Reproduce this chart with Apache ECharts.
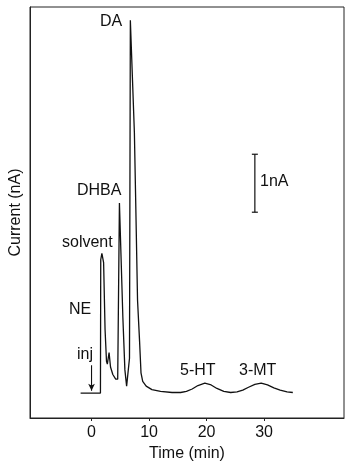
<!DOCTYPE html>
<html>
<head>
<meta charset="utf-8">
<script src="https://cdn.jsdelivr.net/npm/echarts@6/dist/echarts.min.js"></script>
<style>
  html, body { margin: 0; padding: 0; background: #fff; }
  #chart { width: 347px; height: 470px; }
</style>
</head>
<body>
<div id="chart"></div>
<script>
 // chromatogram trace: time (min), current (nA)
 var times = [-1.9, 1.55, 1.6, 1.8, 2.1, 2.35, 2.6, 2.75, 3.05, 3.3, 3.7, 4.2, 4.55,
              4.85, 5.45, 5.8, 6.1, 6.3, 6.6, 6.75, 7.45, 7.7, 8.0, 8.35, 8.6, 8.9,
              9.5, 10.5, 12, 14, 15.5, 16.5, 17.5, 18.5, 19.7, 20.8, 21.8, 23, 24.2,
              25.3, 26.3, 27.3, 28.4, 29.5, 30.6, 31.7, 32.8, 34, 35];
 var current = [0, 0, 2.3, 2.41, 2.25, 1.1, 0.55, 0.5, 0.7, 0.45, 0.32, 0.24, 0.24,
                3.28, 1.3, 0.4, 0.12, 0.09, 0.6, 6.43, 4.5, 3.2, 1.6, 0.9, 0.35, 0.2,
                0.12, 0.06, 0.03, 0.01, 0.01, 0.03, 0.07, 0.13, 0.17, 0.14, 0.08, 0.03, 0.01,
                0.02, 0.05, 0.1, 0.15, 0.17, 0.14, 0.09, 0.05, 0.02, 0.01];
 var tickValues = [0, 10, 20, 30];
 // scale bar (1 nA) and injection arrow
 var scaleBarX = [28.4, 28.4];
 var scaleBarY = [3.12, 4.12];
 var injX = [0, 0];
 var injY = [0.48, 0.04];

 var ink = '#111';
 var font = 'Liberation Sans';

 function makeOption() {
   var trace = [];
   for (var i = 0; i < times.length; i++) trace.push([times[i], current[i]]);
   var bar = [[scaleBarX[0], scaleBarY[0]], [scaleBarX[1], scaleBarY[1]]];
   var inj = [
     {value: [injX[0], injY[0]], symbol: 'none'},
     {value: [injX[1], injY[1]], symbol: 'arrow', symbolRotate: 180, symbolSize: [5, 7]}
   ];
   var labels = [
     ['DA', 100, 23], ['DHBA', 77, 192], ['solvent', 62, 244], ['NE', 69, 311],
     ['inj', 77, 356], ['5-HT', 180, 372], ['3-MT', 239, 372], ['1nA', 260, 183]
   ];
   var graphics = labels.map(function (l) {
     return {
       type: 'text', left: l[1], top: l[2] - 9,
       style: {text: l[0], fill: ink, font: '16px ' + font}
     };
   });
   var option = {
     backgroundColor: '#fff',
     animation: false,
     grid: {left: 26, right: 3, top: 7, bottom: 52, show: true, borderColor: '#222', borderWidth: 1},
     xAxis: {
       type: 'value', min: -10.7, max: 43.9,
       name: 'Time (min)', nameLocation: 'middle', nameGap: 25,
       nameTextStyle: {color: ink, fontSize: 16, fontFamily: font},
       axisLine: {show: true, onZero: false, lineStyle: {color: '#222'}},
       axisTick: {show: true, customValues: tickValues, length: 3, lineStyle: {color: '#222'}},
       axisLabel: {customValues: tickValues, color: ink, fontSize: 16, fontFamily: font, margin: 7},
       splitLine: {show: false}
     },
     yAxis: {
       type: 'value', min: -0.43, max: 6.66,
       name: 'Current (nA)', nameLocation: 'middle', nameGap: 6,
       nameTextStyle: {color: ink, fontSize: 16, fontFamily: font},
       axisLine: {show: true, onZero: false, lineStyle: {color: '#222'}},
       axisTick: {show: false},
       axisLabel: {show: false},
       splitLine: {show: false}
     },
     graphic: graphics,
     series: [
       {
         type: 'line', data: trace, symbol: 'none', smooth: false,
         lineStyle: {color: ink, width: 1.3}
       },
       {
         type: 'line', data: bar, symbol: 'rect', symbolSize: [6, 1.2],
         itemStyle: {color: ink}, lineStyle: {color: ink, width: 1.2}
       },
       {
         type: 'line', data: inj, showSymbol: true,
         itemStyle: {color: ink}, lineStyle: {color: ink, width: 1.1}
       }
     ]
   };
   return option;
 }

 var myChart = echarts.init(document.getElementById('chart'), null, {renderer: 'canvas'});
 myChart.setOption(makeOption());
</script>
</body>
</html>
